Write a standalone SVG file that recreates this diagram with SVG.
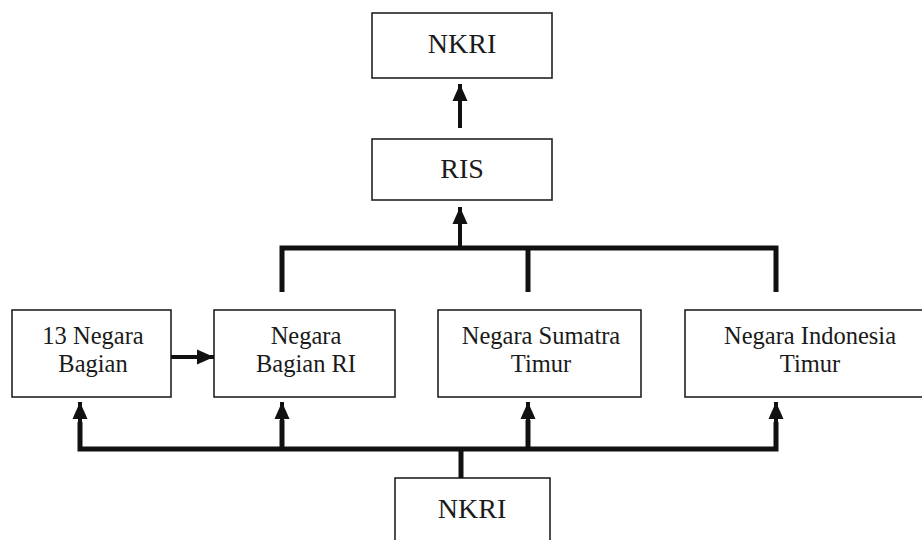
<svg xmlns="http://www.w3.org/2000/svg" width="922" height="540" viewBox="0 0 922 540">
<style>
.box{fill:#fff;stroke:#222;stroke-width:1.6}
.t{font-family:"Liberation Serif","Times New Roman",serif;fill:#1a1a1a;text-anchor:middle}
.big{font-size:28px}
.sm{font-size:24.5px}
.ln{fill:none;stroke:#111;stroke-width:5;stroke-linejoin:miter;stroke-linecap:butt}
.ar{fill:none;stroke:#111;stroke-width:4}
</style>
<defs>
<marker id="ah" markerUnits="userSpaceOnUse" markerWidth="18" markerHeight="18" viewBox="0 0 18 18" refX="17" refY="9" orient="auto">
<path d="M0,1.5 L17,9 L0,16.5 Z" fill="#111"/>
</marker>
</defs>
<rect width="922" height="540" fill="#fff"/>
<g id="nkri-top"><rect class="box" x="372" y="13" width="180" height="65"/><text class="t big" x="462" y="53">NKRI</text></g>
<g id="ris"><rect class="box" x="372" y="139" width="180" height="61"/><text class="t big" x="462" y="178">RIS</text></g>
<g id="n13"><rect class="box" x="12" y="310" width="159" height="87"/><text class="t sm" x="93" y="344">13 Negara</text><text class="t sm" x="93" y="372">Bagian</text></g>
<g id="nbri"><rect class="box" x="214" y="310" width="181" height="87"/><text class="t sm" x="306" y="344">Negara</text><text class="t sm" x="306" y="372">Bagian RI</text></g>
<g id="nst"><rect class="box" x="438" y="310" width="203" height="87"/><text class="t sm" x="541" y="344">Negara Sumatra</text><text class="t sm" x="541" y="372">Timur</text></g>
<g id="nit"><rect class="box" x="685" y="310" width="260" height="87"/><text class="t sm" x="810" y="344">Negara Indonesia</text><text class="t sm" x="810" y="372">Timur</text></g>
<g id="nkri-bottom"><rect class="box" x="395" y="478" width="155" height="80"/><text class="t big" x="472" y="518">NKRI</text></g>
<g id="connectors">
<line class="ar" x1="460" y1="128" x2="460" y2="84" marker-end="url(#ah)"/>
<line class="ar" x1="460" y1="248" x2="460" y2="207" marker-end="url(#ah)"/>
<path class="ln" d="M282,292 V248 H776 V292"/>
<line class="ln" x1="528" y1="248" x2="528" y2="292"/>
<line class="ar" x1="171" y1="357" x2="214" y2="357" marker-end="url(#ah)"/>
<path class="ln" d="M80,422 V449 H776 V422"/>
<line class="ln" x1="282" y1="449" x2="282" y2="420"/>
<line class="ln" x1="528" y1="449" x2="528" y2="420"/>
<line class="ln" x1="461" y1="449" x2="461" y2="478"/>
<line class="ar" x1="80" y1="422" x2="80" y2="402" marker-end="url(#ah)"/>
<line class="ar" x1="282" y1="422" x2="282" y2="402" marker-end="url(#ah)"/>
<line class="ar" x1="528" y1="422" x2="528" y2="402" marker-end="url(#ah)"/>
<line class="ar" x1="776" y1="422" x2="776" y2="402" marker-end="url(#ah)"/>
</g>
</svg>
